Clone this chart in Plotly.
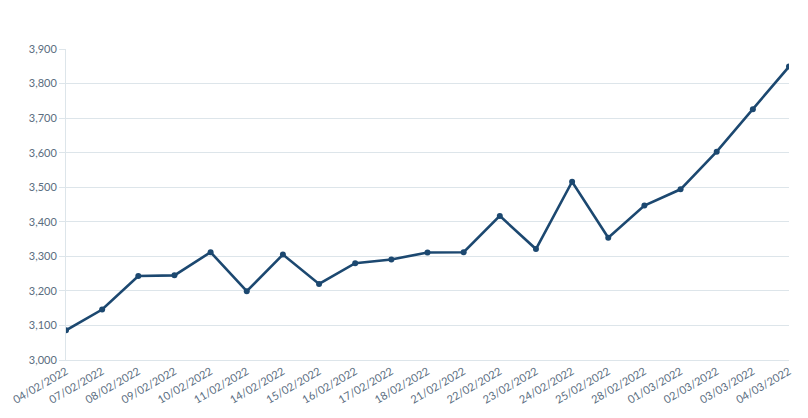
import plotly.graph_objects as go

# Data
dates = ["04/02/2022", "07/02/2022", "08/02/2022", "09/02/2022", "10/02/2022",
         "11/02/2022", "14/02/2022", "15/02/2022", "16/02/2022", "17/02/2022",
         "18/02/2022", "21/02/2022", "22/02/2022", "23/02/2022", "24/02/2022",
         "25/02/2022", "28/02/2022", "01/03/2022", "02/03/2022", "03/03/2022",
         "04/03/2022"]
values = [3086, 3146, 3243, 3245, 3312, 3199, 3305, 3220, 3280, 3291,
          3311, 3312, 3417, 3321, 3516, 3354, 3447, 3494, 3603, 3726, 3849]

y_ticks = [3000, 3100, 3200, 3300, 3400, 3500, 3600, 3700, 3800, 3900]

line_color = "#1c4870"
text_color = "#5a6d80"
grid_color = "#dde5ea"

fig = go.Figure()
fig.add_trace(go.Scatter(
    x=dates,
    y=values,
    mode="lines+markers",
    line=dict(color=line_color, width=2.6),
    marker=dict(color=line_color, size=6),
    hovertemplate="%{x}<br>%{y:,}<extra></extra>",
    showlegend=False
))

# page body has an 8px margin, so the figure is drawn a bit smaller
fig.update_layout(
    width=800,
    height=410,
    margin=dict(l=58, r=19, t=41, b=58),
    paper_bgcolor="white",
    plot_bgcolor="white",
    font=dict(family="Lato, sans-serif", size=11, color=text_color),
    xaxis=dict(
        type="category",
        range=[0, len(dates) - 1],
        tickangle=-30,
        automargin=False,
        showgrid=False,
        showline=True,
        linecolor=grid_color,
        ticks="",
        tickfont=dict(size=11, color=text_color),
    ),
    yaxis=dict(
        range=[3000, 3900],
        tickvals=y_ticks,
        tickformat=",",
        automargin=False,
        showgrid=True,
        gridcolor=grid_color,
        showline=True,
        linecolor=grid_color,
        ticks="outside",
        ticklen=6,
        tickcolor=grid_color,
        zeroline=False,
        tickfont=dict(size=11, color=text_color),
    ),
)

fig.write_html("out.html")
